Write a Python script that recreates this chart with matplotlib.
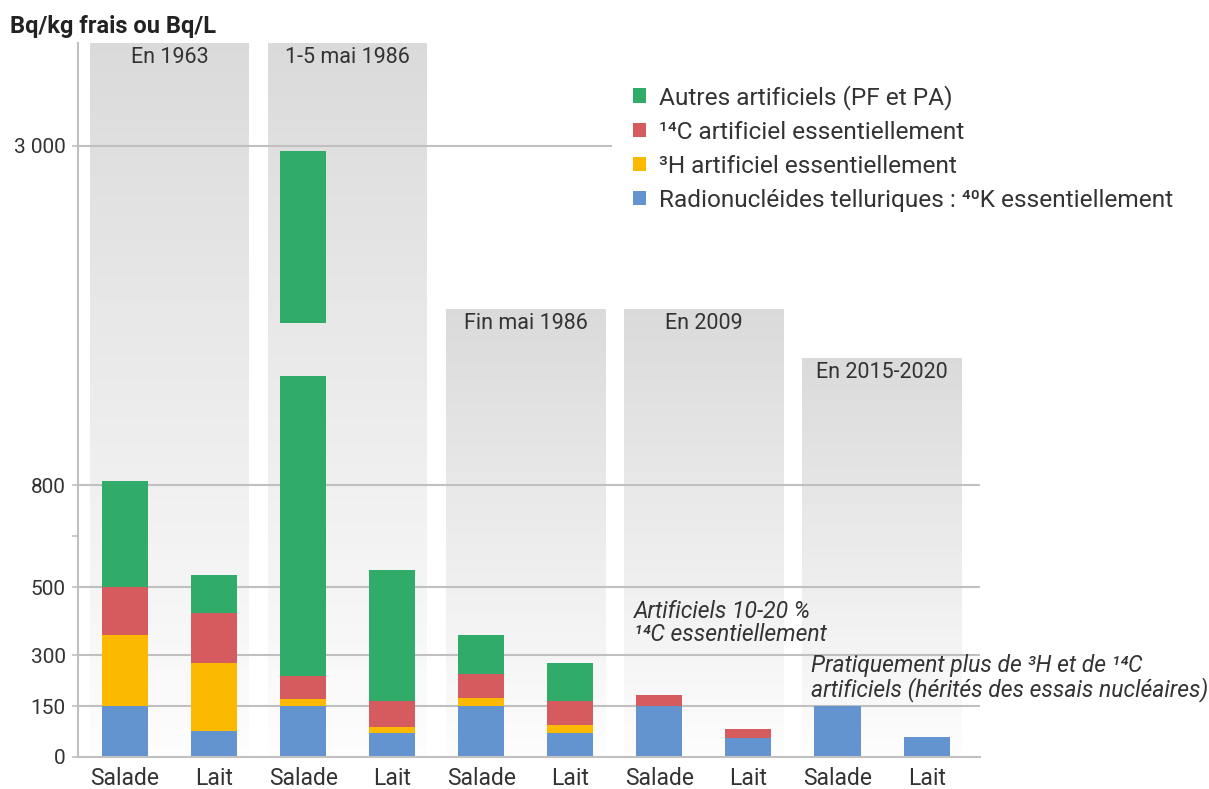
import numpy as np
import matplotlib.pyplot as plt
from matplotlib.patches import Patch

plt.rcParams['font.family'] = ['Roboto', 'DejaVu Sans']

# data (Bq/kg frais ou Bq/L)
periods = ['En 1963', '1-5 mai 1986', 'Fin mai 1986', 'En 2009', 'En 2015-2020']
panel_tops = [3668, 3668, 1945, 1945, 1625]
foods = ['Salade', 'Lait'] * 5
k40 = [150, 77, 150, 70, 150, 72, 150, 56, 150, 59]
h3 = [210, 200, 22, 18, 24, 23, 0, 0, 0, 0]
c14 = [140, 147, 67, 78, 71, 71, 33, 26, 0, 0]
autres = [325, 113, 2731, 385, 114, 112, 0, 0, 0, 0]
# the 1-5 mai salade bar is drawn broken between these values
break_idx = 2
break_gap = (1510, 1850)

labels = ['Autres artificiels (PF et PA)',
          '¹⁴C artificiel essentiellement',
          '³H artificiel essentiellement',
          'Radionucléides telluriques : ⁴⁰K essentiellement']
colors = ['#31ab69', '#d55b5f', '#fbb900', '#6394cf']
txt = '#333333'
grid_c = '#c0c0c0'

# axis compressed above 800
K = 0.4536


def fwd(v):
    v = np.asarray(v, float)
    return np.where(v <= 800, v, 800 + (v - 800) * K)


def inv(u):
    u = np.asarray(u, float)
    return np.where(u <= 800, u, 800 + (u - 800) / K)


fig = plt.figure(figsize=(12.09, 7.89), dpi=100)
ax = fig.add_axes([78 / 1209, 1 - 757 / 789, 902 / 1209, 714 / 789])
ax.set_yscale('function', functions=(fwd, inv))
ax.set_xlim(-0.528, 9.6)
ax.set_ylim(0, 3668)

# grey gradient panels behind each pair of bars
for i, top in enumerate(panel_tops):
    xc = 2 * i + 0.5
    t = np.linspace(0, float(fwd(top)), 151)
    b0 = inv(t[:-1])
    b1 = inv(t[1:])
    frac = (t[:-1] + t[1:]) / 2 / t[-1]
    g = (253 - 35 * frac) / 255
    cols = [(v, v, v) for v in g]
    ax.bar([xc] * len(b0), b1 - b0 + 0.5, bottom=b0, width=1.79, color=cols,
           linewidth=0, antialiased=False, zorder=0.5)
    ax.annotate(periods[i], (xc, top), xytext=(0, -3), textcoords='offset points',
                ha='center', va='top', fontsize=15.5, color=txt, zorder=1)

for v in [150, 300, 500, 800, 3000]:
    ax.axhline(v, color=grid_c, lw=1.5, zorder=1)

x = np.arange(len(foods))
w = 0.517
layers = [k40, h3, c14]
bottom = np.zeros(len(foods))
for vals, c in zip(layers, colors[::-1][:3]):
    vals = np.array(vals, float)
    ax.bar(x, vals, bottom=bottom, width=w, color=c, linewidth=0, zorder=3)
    bottom += vals

green = np.array(autres, float)
for i in range(len(foods)):
    if green[i] == 0:
        continue
    top = bottom[i] + green[i]
    if i == break_idx:
        ax.bar(x[i], break_gap[0] - bottom[i], bottom=bottom[i], width=w,
               color=colors[0], linewidth=0, zorder=3)
        ax.bar(x[i], top - break_gap[1], bottom=break_gap[1], width=w,
               color=colors[0], linewidth=0, zorder=3)
    else:
        ax.bar(x[i], green[i], bottom=bottom[i], width=w,
               color=colors[0], linewidth=0, zorder=3)

ax.set_xticks(x)
ax.set_xticklabels(foods, fontsize=16.5, color=txt)
ax.tick_params(axis='x', length=0, pad=7)
ax.set_yticks([0, 150, 300, 500, 800, 3000])
ax.set_yticklabels(['0', '150', '300', '500', '800', '3 000'], fontsize=15, color=txt)
ax.set_yticks([650], minor=True)
ax.tick_params(axis='y', which='both', length=4, color=grid_c, width=1.2, pad=5)
ax.yaxis.set_minor_formatter(plt.NullFormatter())

for s in ['top', 'right']:
    ax.spines[s].set_visible(False)
for s in ['left', 'bottom']:
    ax.spines[s].set_color(grid_c)
    ax.spines[s].set_linewidth(1.5)
    ax.spines[s].set_zorder(4)

ax.text(5.71, 462, 'Artificiels 10-20 %\n¹⁴C essentiellement', style='italic',
        ha='left', va='top', fontsize=16.5, color=txt, linespacing=1.0, zorder=5)
ax.text(7.70, 304, 'Pratiquement plus de ³H et de ¹⁴C\nartificiels (hérités des essais nucléaires)',
        style='italic', ha='left', va='top', fontsize=16.5, color=txt, linespacing=1.0, zorder=5)

handles = [Patch(facecolor=c, edgecolor='none') for c in colors]
leg = fig.legend(handles, labels, loc='upper left',
                 bbox_to_anchor=(612 / 1209, 1 - 64 / 789), borderaxespad=0,
                 fontsize=17.6, frameon=True, handlelength=0.53, handleheight=0.53,
                 handletextpad=0.55, labelspacing=0.45, borderpad=0.85)
leg.get_frame().set_facecolor('white')
leg.get_frame().set_edgecolor('none')
leg.get_frame().set_alpha(1)
for t in leg.get_texts():
    t.set_color(txt)

fig.text(10 / 1209, 1 - 33 / 789, 'Bq/kg frais ou Bq/L', fontsize=17, weight='bold',
         color='#222222', ha='left', va='baseline')

fig.savefig('out.png', dpi=100)
